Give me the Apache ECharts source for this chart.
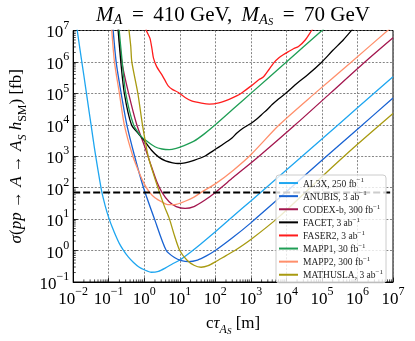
<!DOCTYPE html>
<html><head><meta charset="utf-8">
<script src="https://cdn.jsdelivr.net/npm/echarts@6/dist/echarts.min.js"></script>
<style>html,body{margin:0;padding:0;background:#fff}#c{width:415px;height:341px}</style>
</head><body><div id="c"></div>
<script>
// ---- data (cτ in m, σ in fb) ----
const detectorNames = ['AL3X','ANUBIS','CODEX-b','FACET','FASER2','MAPP1','MAPP2','MATHUSLA'];
const detectorLumi  = ['250 fb','3 ab','300 fb','3 ab','3 ab','30 fb','300 fb','3 ab'];

const al3xX = [0.0126,0.0158,0.02,0.0251,0.0316,0.0398,0.0501,0.0631,0.0794,0.1,0.126,0.158,0.2,0.263,0.355,0.5,0.708,1.0,1.58,2.51,3.98,6.31,10,20,39.8,100,316,1000,1e4,1e5,1e6,1e7];
const al3xY = [1.3e7,2.2e6,3.7e5,6.3e4,1.07e4,1780,355,79,27,11.2,5.5,2.95,1.66,1.0,0.63,0.417,0.30,0.245,0.204,0.219,0.282,0.38,0.50,0.89,1.66,3.98,12.3,38,363,3550,3.47e4,3.39e5];

const anubisX = [0.126,0.162,0.224,0.324,0.537,0.955,1.95,4.17,7.08,11.2,17.8,31.6,56,100,316,1000,1e4,1e5,1e6,1e7];
const anubisY = [2.2e7,1e6,1e5,1e4,1000,100,10,1.0,0.60,0.48,0.447,0.50,0.676,1.0,2.63,7.6,74,741,7240,7.1e4];

const codexX = [0.182,0.234,0.363,0.617,1.0,1.51,2.24,3.16,5.01,7.94,14.1,25.1,50.1,100,316,1700,17800,1.7e5,1.62e6,1e7];
const codexY = [1.6e7,1e6,1e5,1e4,2240,562,158,71,35.5,25.1,21.9,25.1,39.8,70.8,209,1000,1e4,1e5,1e6,5.9e6];

const facetX = [0.178,0.219,0.275,0.437,0.708,1.0,1.58,2.51,3.98,6.31,8.91,14.1,25.1,50.1,100,200,300,398,600,1000,1500,2000,3000,3980,6000,1e4,2e4,3.98e4,1e5,2e5,3.98e5,7.4e5];
const facetY = [1.6e7,1e6,1e5,1e4,5000,3160,1580,955,708,617,589,617,741,1000,1660,2800,3900,5400,7800,1.1e4,1.55e4,2.1e4,3.2e4,4.4e4,6.6e4,1.05e5,2.1e5,3.9e5,1e6,2.3e6,5e6,1.12e7];

const faser2X = [1.05,1.15,1.45,1.66,1.82,2.24,3.09,3.98,4.79,6.31,9.12,14.1,21.4,40.7,67.6,126,245,398,575,1000,1700,2240,3240,4470,6170,7940,1.15e4,1.58e4,2.19e4,3.39e4,5.13e4,6.3e4];
const faser2Y = [2e7,1e7,5.6e6,2.5e6,1.32e6,7.1e5,4e5,2.4e5,1.7e5,1.32e5,1.07e5,7.4e4,5.75e4,4.9e4,4.57e4,5e4,6.46e4,8.3e4,1.07e5,1.7e5,2.75e5,3.3e5,5.75e5,9.5e5,1.35e6,1.66e6,2.14e6,2.63e6,3.1e6,5e6,1e7,1.4e7];

const mapp1X = [0.19,0.24,0.302,0.5,0.794,1.12,2.0,3.16,5.01,7.94,12.6,25.1,50.1,100,316,1000,1e4,1.12e5];
const mapp1Y = [1.6e7,1e6,1e5,1e4,4470,3160,2000,1700,1620,1780,2140,3020,5250,1e4,3.16e4,1e5,1e6,1.12e7];

const mapp2X = [0.117,0.145,0.2,0.275,0.479,0.708,1.0,1.41,2.0,3.16,4.57,7.94,14.1,25.1,39.8,100,316,1000,6310,6.31e4,6.76e5,1e7];
const mapp2Y = [2e7,1e6,1e5,1e4,1000,316,132,71,48,35,28.8,29.5,37,50,71,132,355,1120,1e4,1e5,1e6,1.4e7];

const mathuslaX = [0.355,0.417,0.447,0.661,0.891,1.29,1.86,2.69,3.72,5.13,7.08,10,15.8,25.1,39.8,63.1,100,200,355,1000,6310,1e5,1e6,1e7];
const mathuslaY = [1.6e7,3.2e6,1e6,1e5,1e4,1000,251,71,25,10,3.0,1.0,0.5,0.34,0.295,0.33,0.437,0.69,1.0,2.24,12,224,2400,2.3e4];

const thresholdX = [0.01, 1e7];
const thresholdY = [70, 70];

const xDecades = [-2,-1,0,1,2,3,4,5,6,7];
const yDecades = [-1,0,1,2,3,4,5,6,7];

const colors = ['#1ea6f0','#1862d2','#a3164e','#000000','#ff1c1c','#1f9e55','#ff8f6b','#a89a10'];
const xs = [al3xX, anubisX, codexX, facetX, faser2X, mapp1X, mapp2X, mathuslaX];
const ys = [al3xY, anubisY, codexY, facetY, faser2Y, mapp1Y, mapp2Y, mathuslaY];

const FONT = 'Liberation Serif';

function pairs(x, y){ return x.map((v,i)=>[v, y[i]]); }

const curveSeries = detectorNames.map((n,i)=>({
  name: n, type:'line', data: pairs(xs[i], ys[i]), symbol:'none', smooth:0.25,
  lineStyle:{color:colors[i], width:1.3}, itemStyle:{color:colors[i]}, z:2, clip:true
}));

function minorTicks(axis){
  const data=[];
  const dec = axis==='x' ? xDecades : yDecades;
  for(let i=0;i<dec.length-1;i++){
    for(let k=2;k<=9;k++){
      const v = k*Math.pow(10, dec[i]);
      data.push(axis==='x' ? [v, 0.1] : [0.01, v]);
    }
  }
  return {type:'custom', silent:true, z:6, clip:false, data, encode:{x:0,y:1},
    renderItem(params, api){
      const p = api.coord([api.value(0), api.value(1)]);
      const L = 2.6;
      const shape = axis==='x' ? {x1:p[0],y1:p[1],x2:p[0],y2:p[1]-L} : {x1:p[0],y1:p[1],x2:p[0]+L,y2:p[1]};
      return {type:'line', shape, style:{stroke:'#000', lineWidth:0.7}};
    }};
}

function expLabel(v){
  const e = Math.round(Math.log10(v));
  return '{b|10}{e|' + (e<0 ? '\u2212'+(-e) : e) + '}';
}
const tickRich = {
  b:{fontFamily:FONT, fontSize:17, lineHeight:22, verticalAlign:'bottom', color:'#000'},
  e:{fontFamily:FONT, fontSize:12, lineHeight:12, verticalAlign:'top', color:'#000'}
};

const SP = '\u2009';
const chart = echarts.init(document.getElementById('c'), null, {renderer:'canvas'});
chart.setOption({
  animation:false,
  backgroundColor:'#fff',
  grid:{left:73, right:22, top:30.5, bottom:56, show:true, borderColor:'#000', borderWidth:1, containLabel:false},
  graphic:[{
    type:'text', x:233, y:28, z:10,
    style:{
      text:'{i|M}{s|A}{r|'+SP+' '+'='+' '+SP+'410 GeV,'+SP+' }{i|M}{s|A}{ss|S}{r|'+SP+' = '+SP+'70 GeV}',
      align:'center', verticalAlign:'bottom',
      rich:{
        i:{fontFamily:FONT, fontStyle:'italic', fontSize:21, lineHeight:26, verticalAlign:'middle', fill:'#000'},
        r:{fontFamily:FONT, fontSize:21, lineHeight:26, verticalAlign:'middle', fill:'#000'},
        s:{fontFamily:FONT, fontStyle:'italic', fontSize:14.5, lineHeight:13, verticalAlign:'bottom', fill:'#000'},
        ss:{fontFamily:FONT, fontStyle:'italic', fontSize:10.5, lineHeight:6, verticalAlign:'bottom', fill:'#000'}
      }
    }
  }],
  xAxis:{
    type:'log', logBase:10, min:0.01, max:1e7, interval:1,
    name:'{r|c}{i|τ}{s|A}{ss|S}{r| [m]}', nameLocation:'middle', nameGap:30,
    nameTextStyle:{rich:{
      r:{fontFamily:FONT, fontSize:17, lineHeight:24, verticalAlign:'middle', color:'#000'},
      i:{fontFamily:FONT, fontStyle:'italic', fontSize:17, lineHeight:24, verticalAlign:'middle', color:'#000'},
      s:{fontFamily:FONT, fontStyle:'italic', fontSize:12, lineHeight:12, verticalAlign:'bottom', color:'#000'},
      ss:{fontFamily:FONT, fontStyle:'italic', fontSize:9, lineHeight:6, verticalAlign:'bottom', color:'#000'}
    }},
    axisLine:{show:true, lineStyle:{color:'#000', width:1}},
    axisTick:{show:true, inside:true, length:4.5, lineStyle:{color:'#000', width:0.8}},
    minorTick:{show:false},
    axisLabel:{formatter:expLabel, margin:4, rich:tickRich},
    splitLine:{show:true, lineStyle:{color:'#666', width:0.8, type:[2,1.6]}}
  },
  yAxis:{
    type:'log', logBase:10, min:0.1, max:1e7, interval:1,
    name:'{i|σ}{r|(}{i|pp}{r| → }{i|A}{r| → }{i|A}{s|S}{r| }{i|h}{sr|SM}{r|) [fb]}',
    nameLocation:'middle', nameRotate:90, nameGap:44,
    nameTextStyle:{rich:{
      r:{fontFamily:FONT, fontSize:17, lineHeight:24, verticalAlign:'middle', color:'#000'},
      i:{fontFamily:FONT, fontStyle:'italic', fontSize:17, lineHeight:24, verticalAlign:'middle', color:'#000'},
      s:{fontFamily:FONT, fontStyle:'italic', fontSize:12, lineHeight:12, verticalAlign:'bottom', color:'#000'},
      sr:{fontFamily:FONT, fontSize:12, lineHeight:12, verticalAlign:'bottom', color:'#000'}
    }},
    axisLine:{show:true, lineStyle:{color:'#000', width:1}},
    axisTick:{show:true, inside:true, length:4.5, lineStyle:{color:'#000', width:0.8}},
    minorTick:{show:false},
    axisLabel:{formatter:expLabel, margin:4, rich:tickRich},
    splitLine:{show:true, lineStyle:{color:'#666', width:0.8, type:[2,1.6]}}
  },
  legend:{
    data:detectorNames, orient:'vertical', left:276, top:175,
    icon:'rect', itemWidth:19, itemHeight:2, itemGap:1,
    padding:[2,3,2,3],
    backgroundColor:'rgba(255,255,255,0.8)', borderColor:'#cccccc', borderWidth:1, borderRadius:3,
    formatter:(name)=>'{t|'+name+', '+detectorLumi[detectorNames.indexOf(name)]+'}{u|\u22121}',
    textStyle:{color:'#222', rich:{
      t:{fontFamily:FONT, fontSize:9.5, lineHeight:12.1, verticalAlign:'bottom', color:'#222'},
      u:{fontFamily:FONT, fontSize:7, lineHeight:7, verticalAlign:'top', color:'#222'}
    }},
    z:10
  },
  series: curveSeries.concat([
    {name:'threshold', type:'line', data:pairs(thresholdX, thresholdY), symbol:'none',
     lineStyle:{color:'#000', width:2, type:[7,3]}, z:3, silent:true},
    minorTicks('x'), minorTicks('y')
  ])
});
</script>
</body></html>
